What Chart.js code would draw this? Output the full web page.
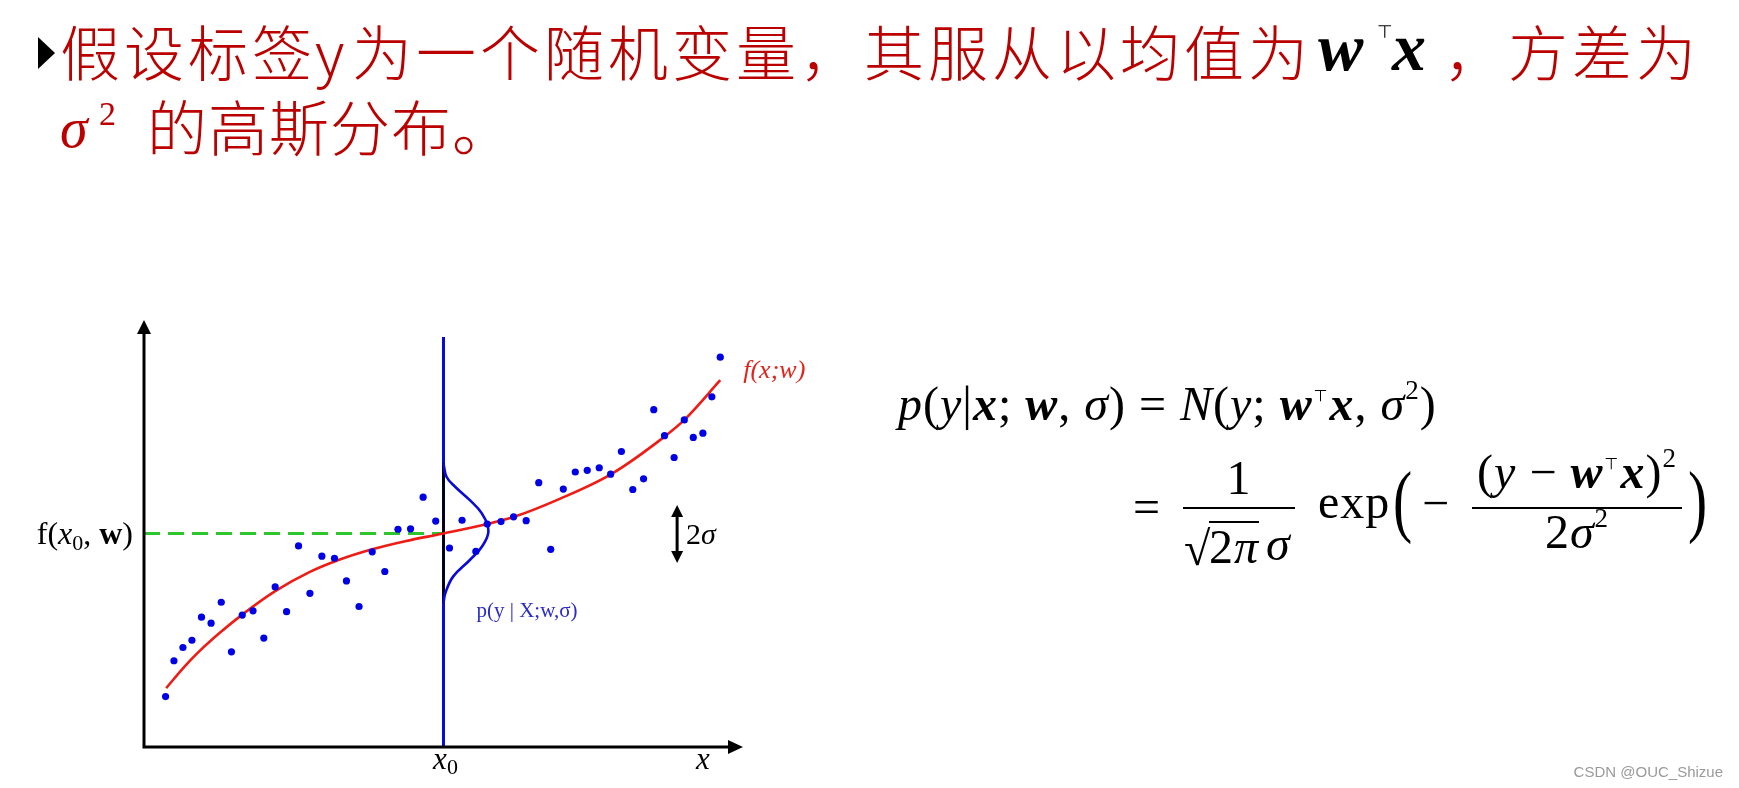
<!DOCTYPE html>
<html>
<head>
<meta charset="utf-8">
<script src="https://cdn.jsdelivr.net/npm/chart.js@4.4.0/dist/chart.umd.min.js"></script>
<style>
  body { margin: 0; background: #fff; overflow: hidden; }
  #wrap { position: relative; width: 1739px; height: 788px; }
  #c { position: absolute; left: 0; top: 0; }
  .t { position: absolute; white-space: nowrap; line-height: 1; color: #bb0000;
       font-family: "Noto Sans CJK SC", sans-serif; font-weight: 300; font-size: 60px; letter-spacing: 4px; }
  .m { position: absolute; white-space: nowrap; line-height: 1; color: #000;
       font-family: "Liberation Serif", "DejaVu Serif", serif; font-size: 48px; letter-spacing: 1px; }
  .bi { font-weight: bold; font-style: italic; }
  .sp { font-size: 27px; position: relative; top: -21px; }
  .tp { font-family: "DejaVu Sans", sans-serif; font-size: 16px; position: relative; top: -19px; margin: 0 1px; }
  .bar { position: absolute; height: 0; border-top: 2px solid #000; }
  .ctr { text-align: center; }
  .big { font-size: 80px; transform: scaleX(0.72); transform-origin: left top; }
  #tri { position: absolute; left: 38px; top: 37px; width: 0; height: 0;
         border-left: 17px solid #000; border-top: 16.5px solid transparent; border-bottom: 16.5px solid transparent; }
  #wm { position: absolute; right: 16px; top: 763px; font-family: "Liberation Sans", Arial, sans-serif;
        font-size: 15px; color: #9a9a9a; }
</style>
</head>
<body>
<div id="wrap">
  <canvas id="c" width="1739" height="788"></canvas>

  <!-- title -->
  <div id="tri"></div>
  <span class="t" style="left:60px; top:20px">假设标签</span>
  <span class="t" style="left:315px; top:20px">y</span>
  <span class="t" style="left:352px; top:20px">为一个随机变量，其服从以均值为</span>
  <span class="m bi" style="left:1318px; top:13px; font-size:68px; letter-spacing:0">w</span>
  <span class="m" style="left:1377px; top:23px; font-family:'DejaVu Sans',sans-serif; font-size:18px">⊤</span>
  <span class="m bi" style="left:1392px; top:13px; font-size:68px; letter-spacing:0">x</span>
  <span class="t" style="left:1444px; top:20px">，方差为</span>
  <span class="m" style="left:60px; top:100px; font-size:56px; font-style:italic; color:#bb0000">σ</span>
  <span class="m" style="left:99px; top:97px; font-size:34px; color:#bb0000">2</span>
  <span class="t" style="left:147px; top:95px; letter-spacing:1px">的高斯分布。</span>

  <!-- formula, line 1 -->
  <div class="m" style="left:898px; top:380px"><i>p</i>(<i>y</i>|<b><i>x</i></b>; <b><i>w</i></b>, <i>σ</i>) = <i>N</i>(<i>y</i>; <b><i>w</i></b><span class="tp">⊤</span><b><i>x</i></b>, <i>σ</i><span class="sp">2</span>)</div>

  <!-- formula, line 2 -->
  <div class="m" style="left:1133px; top:483px">=</div>
  <div class="m ctr" style="left:1183px; top:454px; width:112px">1</div>
  <div class="bar" style="left:1183px; top:507px; width:112px"></div>
  <div class="m" style="left:1184px; top:525px">√</div>
  <div class="m" style="left:1209px; top:521px; border-top:2px solid #000">2<i>π</i></div>
  <div class="m" style="left:1266px; top:520px"><i>σ</i></div>
  <div class="m" style="left:1318px; top:478px">exp</div>
  <div class="m big" style="left:1393px; top:460px">(</div>
  <div class="m" style="left:1422px; top:479px">−</div>
  <div class="m ctr" style="left:1472px; top:448px; width:210px">(<i>y</i> − <b><i>w</i></b><span class="tp">⊤</span><b><i>x</i></b>)<span class="sp">2</span></div>
  <div class="bar" style="left:1472px; top:507px; width:210px"></div>
  <div class="m ctr" style="left:1472px; top:508px; width:210px">2<i>σ</i><span class="sp">2</span></div>
  <div class="m big" style="left:1688px; top:460px">)</div>

  <div id="wm">CSDN @OUC_Shizue</div>
</div>

<script>
const dotX = [0.36, 0.50, 0.65, 0.80, 0.96, 1.12, 1.29, 1.46, 1.64, 1.82, 2.00, 2.19, 2.38, 2.58, 2.77, 2.97, 3.18,
  3.38, 3.59, 3.81, 4.02, 4.24, 4.45, 4.66, 4.87, 5.10, 5.31, 5.54, 5.73, 5.96, 6.17, 6.38, 6.59, 6.79,
  7.00, 7.20, 7.40, 7.60, 7.79, 7.97, 8.16, 8.34, 8.51, 8.69, 8.85, 9.02, 9.17, 9.33, 9.48, 9.62];
const dotY = [1.18, 2.02, 2.33, 2.50, 3.04, 2.90, 3.39, 2.23, 3.09, 3.19, 2.55, 3.75, 3.17, 4.71, 3.60, 4.47, 4.42,
  3.89, 3.29, 4.57, 4.11, 5.10, 5.11, 5.85, 5.29, 4.66, 5.31, 4.58, 5.22, 5.28, 5.39, 5.30, 6.19, 4.63,
  6.04, 6.44, 6.48, 6.54, 6.39, 6.92, 6.03, 6.28, 7.90, 7.29, 6.78, 7.66, 7.25, 7.35, 8.20, 9.13];

// f(x;w) curve
const curveX = [0.37, 0.68, 0.93, 1.27, 1.64, 2.19, 2.77, 3.27, 3.81, 4.36, 5.00, 5.73, 6.18, 6.94, 7.80, 8.70, 9.02, 9.62];
const curveY = [1.38, 1.89, 2.25, 2.68, 3.10, 3.65, 4.10, 4.39, 4.63, 4.82, 5.00, 5.22, 5.39, 5.81, 6.39, 7.28, 7.66, 8.59];

// p(y|X;w,sigma) bell at x0
const gaussX = [5.00, 5.05, 5.19, 5.44, 5.64, 5.75, 5.64, 5.44, 5.16, 5.03, 5.00];
const gaussY = [6.64, 6.33, 6.10, 5.78, 5.47, 5.06, 4.69, 4.38, 3.99, 3.60, 3.37];

const x0 = 5.0;
const fx0 = 5.0;
const x0LineTop = 9.6;
const sigmaArrow = { x: 8.9, lo: 4.31, hi: 5.67 };

const pts = (xs, ys) => xs.map((v, i) => ({ x: v, y: ys[i] }));
const SERIF = '"Liberation Serif", "DejaVu Serif", serif';

function head(ctx, x, y, dx, dy, len, half) {
  ctx.beginPath();
  ctx.moveTo(x, y);
  ctx.lineTo(x - dx * len - dy * half, y - dy * len + dx * half);
  ctx.lineTo(x - dx * len + dy * half, y - dy * len - dx * half);
  ctx.closePath();
  ctx.fill();
}

function runs(ctx, parts, x, y, color, align) {
  let w = 0;
  parts.forEach(p => { ctx.font = p.f; w += ctx.measureText(p.t).width; });
  let cx = align === 'right' ? x - w : align === 'center' ? x - w / 2 : x;
  ctx.fillStyle = color;
  ctx.textBaseline = 'alphabetic';
  parts.forEach(p => {
    ctx.font = p.f;
    ctx.fillText(p.t, cx, y + (p.dy || 0));
    cx += ctx.measureText(p.t).width;
  });
}

const overlay = {
  id: 'overlay',
  afterDatasetsDraw(chart) {
    const { ctx, chartArea: a, scales: { x, y } } = chart;
    const ox = a.left, oy = y.getPixelForValue(0);
    ctx.save();
    ctx.strokeStyle = '#000';
    ctx.fillStyle = '#000';
    ctx.lineWidth = 3;
    ctx.beginPath();
    ctx.moveTo(ox, oy + 1.5);
    ctx.lineTo(ox, a.top + 10);
    ctx.moveTo(ox - 1.5, oy);
    ctx.lineTo(a.right - 10, oy);
    ctx.stroke();
    head(ctx, ox, a.top, 0, -1, 14, 7);
    head(ctx, a.right, oy, 1, 0, 15, 7);

    // 2 sigma marker
    const sx = x.getPixelForValue(sigmaArrow.x);
    const sTop = y.getPixelForValue(sigmaArrow.hi), sBot = y.getPixelForValue(sigmaArrow.lo);
    ctx.beginPath();
    ctx.moveTo(sx, sTop + 8);
    ctx.lineTo(sx, sBot - 8);
    ctx.stroke();
    head(ctx, sx, sTop, 0, -1, 12, 6);
    head(ctx, sx, sBot, 0, 1, 12, 6);
    runs(ctx, [{ t: '2', f: '30px ' + SERIF }, { t: 'σ', f: 'italic 30px ' + SERIF }], sx + 9, (sTop + sBot) / 2 + 10, '#000', 'left');

    // labels
    const px0 = x.getPixelForValue(x0), py0 = y.getPixelForValue(fx0);
    runs(ctx, [
      { t: 'f(', f: '32px ' + SERIF },
      { t: 'x', f: 'italic 32px ' + SERIF },
      { t: '0', f: '22px ' + SERIF, dy: 6 },
      { t: ', ', f: '32px ' + SERIF },
      { t: 'w', f: 'bold 32px ' + SERIF },
      { t: ')', f: '32px ' + SERIF }
    ], ox - 11, py0 + 10, '#000', 'right');
    runs(ctx, [{ t: 'x', f: 'italic 31px ' + SERIF }, { t: '0', f: '22px ' + SERIF, dy: 5 }], px0 + 2, oy + 22, '#000', 'center');
    runs(ctx, [{ t: 'x', f: 'italic 31px ' + SERIF }], x.getPixelForValue(9.33), oy + 22, '#000', 'center');
    const last = curveX.length - 1;
    runs(ctx, [{ t: 'f(x;w)', f: 'italic 26px ' + SERIF }], x.getPixelForValue(curveX[last]) + 23, y.getPixelForValue(curveY[last]) - 2, '#e0261c', 'left');
    runs(ctx, [{ t: 'p(y | X;w,σ)', f: '21px ' + SERIF }], px0 + 33, y.getPixelForValue(gaussY[gaussY.length - 1]) + 14, '#2b2bc8', 'left');
    ctx.restore();
  }
};

new Chart("c", {
  type: "scatter",
  data: {
    datasets: [
      {
        data: pts(dotX, dotY),
        pointRadius: 3.6,
        pointBorderWidth: 0,
        pointBackgroundColor: "#0000e6",
        showLine: false,
      },
      {
        data: pts(curveX, curveY),
        showLine: true,
        borderColor: "#ee1c14",
        borderWidth: 2.6,
        pointRadius: 0,
        cubicInterpolationMode: "monotone",
      },
      {
        data: pts(gaussX, gaussY),
        showLine: true,
        borderColor: "#0a0ad8",
        borderWidth: 2.6,
        pointRadius: 0,
        tension: 0.4,
      },
      {
        data: [{ x: x0, y: gaussY[gaussY.length - 1] }, { x: x0, y: gaussY[0] }],
        showLine: true,
        borderColor: "#000",
        borderWidth: 2.6,
        pointRadius: 0,
      },
      {
        data: [{ x: x0, y: 0 }, { x: x0, y: x0LineTop }],
        showLine: true,
        borderColor: "#0a0ad8",
        borderWidth: 3,
        pointRadius: 0,
      },
      {
        data: [{ x: 0, y: fx0 }, { x: x0, y: fx0 }],
        showLine: true,
        borderColor: "#2ec52e",
        borderWidth: 3,
        borderDash: [16, 8],
        pointRadius: 0,
      },
    ],
  },
  options: {
    responsive: false,
    animation: false,
    clip: false,
    layout: { padding: { left: 144, top: 320, right: 996, bottom: 41 } },
    scales: {
      x: { type: "linear", min: 0, max: 10, display: false },
      y: { type: "linear", min: 0, max: 10, display: false },
    },
    plugins: { legend: { display: false }, tooltip: { enabled: false } },
  },
  plugins: [overlay],
});
</script>
</body>
</html>
